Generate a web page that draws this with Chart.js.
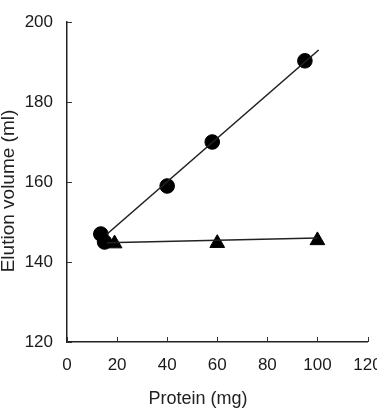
<!DOCTYPE html>
<html>
<head>
<meta charset="utf-8">
<script src="https://cdn.jsdelivr.net/npm/chart.js@4.4.1/dist/chart.umd.min.js"></script>
<style>
  html, body { margin: 0; padding: 0; background: #fff; overflow: hidden; }
  #wrap { width: 377px; height: 412px; }
</style>
</head>
<body>
<div id="wrap"><canvas id="elutionChart"></canvas></div>
<script>
// filled circles
const circleProtein = [13.5, 15, 40, 58, 95];
const circleVolume = [147, 145, 159, 170, 190.3];
// filled triangles
const triangleProtein = [19, 60, 100];
const triangleVolume = [144.6, 144.7, 145.4];
// fitted lines, end points
const circleFitX = [16, 100.5];
const circleFitY = [147, 193];
const triangleFitX = [16, 100];
const triangleFitY = [144.8, 146];

const xTicks = [0, 20, 40, 60, 80, 100, 120];
const yTicks = [120, 140, 160, 180, 200];

const xTitle = 'Protein (mg)';
const yTitle = 'Elution volume (ml)';

const tickFont = { family: '"Liberation Sans", Arial, sans-serif', size: 17 };

const toPoints = (xs, ys) => xs.map((x, i) => ({ x: x, y: ys[i] }));

// small tick marks pointing into the plot, plus the axis titles
const figureExtras = {
    id: 'figureExtras',
    afterDraw(chart) {
        const { ctx, chartArea, scales } = chart;
        ctx.save();
        ctx.strokeStyle = '#333';
        ctx.lineWidth = 1;
        xTicks.forEach(v => {
            const px = Math.round(scales.x.getPixelForValue(v)) + 0.5;
            ctx.beginPath();
            ctx.moveTo(px, chartArea.bottom);
            ctx.lineTo(px, chartArea.bottom - 5);
            ctx.stroke();
        });
        yTicks.forEach(v => {
            const py = Math.round(scales.y.getPixelForValue(v)) + 0.5;
            ctx.beginPath();
            ctx.moveTo(chartArea.left, py);
            ctx.lineTo(chartArea.left + 5, py);
            ctx.stroke();
        });

        ctx.fillStyle = '#222';
        ctx.font = '18px "Liberation Sans", Arial, sans-serif';
        ctx.textAlign = 'center';
        ctx.textBaseline = 'middle';
        ctx.fillText(xTitle, 198, 399);

        ctx.translate(9, 191);
        ctx.rotate(-Math.PI / 2);
        ctx.font = '19px "Liberation Sans", Arial, sans-serif';
        ctx.fillText(yTitle, 0, 0);
        ctx.restore();
    }
};

const ctx = document.getElementById('elutionChart').getContext('2d');
new Chart(ctx, {
    type: 'scatter',
    data: {
        datasets: [
            {
                data: toPoints(circleFitX, circleFitY),
                showLine: true,
                borderColor: '#222',
                borderWidth: 1.6,
                pointRadius: 0
            },
            {
                data: toPoints(triangleFitX, triangleFitY),
                showLine: true,
                borderColor: '#222',
                borderWidth: 1.6,
                pointRadius: 0
            },
            {
                data: toPoints(circleProtein, circleVolume),
                pointStyle: 'circle',
                pointRadius: 7.3,
                backgroundColor: '#000',
                borderColor: '#000'
            },
            {
                data: toPoints(triangleProtein, triangleVolume),
                pointStyle: 'triangle',
                pointRadius: 8.5,
                backgroundColor: '#000',
                borderColor: '#000'
            }
        ]
    },
    options: {
        responsive: true,
        maintainAspectRatio: false,
        animation: false,
        layout: { padding: { top: 22, right: 5, left: 0, bottom: 0 } },
        plugins: {
            legend: { display: false },
            tooltip: { enabled: false }
        },
        scales: {
            x: {
                type: 'linear',
                min: 0,
                max: 120,
                afterBuildTicks: s => { s.ticks = xTicks.map(v => ({ value: v })); },
                afterFit: s => { s.height = 70; s.paddingLeft = 0; s.paddingRight = 0; },
                grid: { display: false, drawTicks: false },
                border: { color: '#222', width: 1.5 },
                ticks: { padding: 13, color: '#1a1a1a', font: tickFont }
            },
            y: {
                type: 'linear',
                min: 120,
                max: 200,
                afterBuildTicks: s => { s.ticks = yTicks.map(v => ({ value: v })); },
                afterFit: s => { s.width = 67; s.paddingTop = 0; s.paddingBottom = 0; },
                grid: { display: false, drawTicks: false },
                border: { color: '#222', width: 1.5 },
                ticks: { padding: 14, color: '#1a1a1a', font: tickFont }
            }
        }
    },
    plugins: [figureExtras]
});
</script>
</body>
</html>
